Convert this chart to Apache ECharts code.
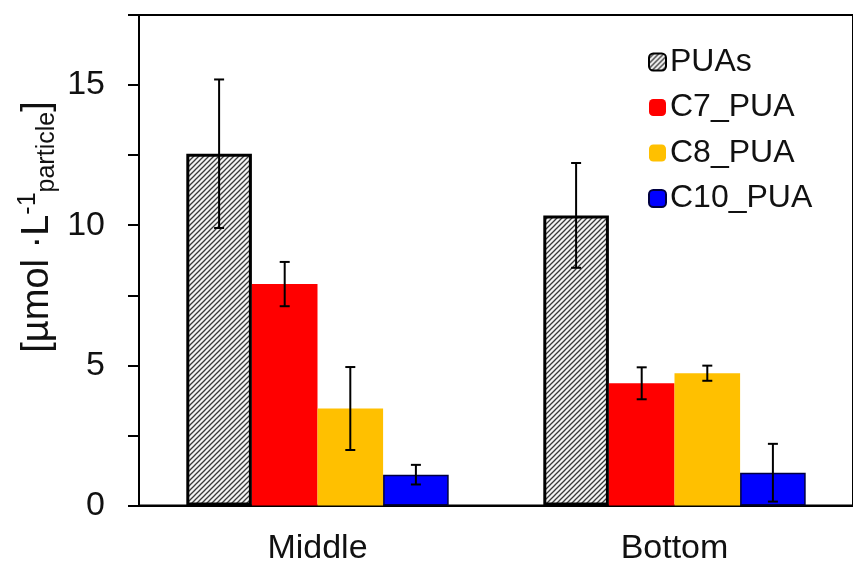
<!DOCTYPE html>
<html>
<head>
<meta charset="utf-8">
<script src="https://cdn.jsdelivr.net/npm/echarts@6/dist/echarts.min.js"></script>
<style>
html,body{margin:0;padding:0;background:#fff;}
#chart{width:853px;height:568px;}
</style>
</head>
<body>
<div id="chart"></div>
<script>
const categories = ['Middle', 'Bottom'];
const seriesNames = ['PUAs', 'C7_PUA', 'C8_PUA', 'C10_PUA'];
const puas = [12.55, 10.35];
const puasErr = [2.65, 1.87];
const c7 = [7.9, 4.36];
const c7Err = [0.79, 0.57];
const c8 = [3.46, 4.72];
const c8Err = [1.48, 0.27];
const c10 = [1.1, 1.17];
const c10Err = [0.35, 1.03];
const yTicks = [0, 5, 10, 15];

const FONT = 'Liberation Sans, Arial, sans-serif';
const GAP = 0.265;

const pc = document.createElement('canvas');
pc.width = 5; pc.height = 5;
const ctx = pc.getContext('2d');
ctx.fillStyle = '#f4f4f4';
ctx.fillRect(0, 0, 5, 5);
ctx.strokeStyle = '#3a3a3a';
ctx.lineWidth = 1.3;
ctx.beginPath();
ctx.moveTo(-1, 6); ctx.lineTo(6, -1);
ctx.moveTo(-1, 1); ctx.lineTo(1, -1);
ctx.moveTo(4, 6); ctx.lineTo(6, 4);
ctx.stroke();
const hatch = { image: pc, repeat: 'repeat' };

const values = [puas, c7, c8, c10];
const errs = [puasErr, c7Err, c8Err, c10Err];
const errData = [];
values.forEach((arr, k) => arr.forEach((v, i) => errData.push([i, k, v, errs[k][i]])));

const styles = [
  { color: hatch, borderColor: '#000', borderWidth: 3 },
  { color: '#ff0000' },
  { color: '#ffc000' },
  { color: '#0000ff', borderColor: '#000040', borderWidth: 1.5 }
];

const chart = echarts.init(document.getElementById('chart'));
chart.setOption({
  animation: false,
  backgroundColor: '#fff',
  grid: { left: 139, top: 15, width: 724, bottom: 62.5, show: true, borderColor: '#000', borderWidth: 2 },
  legend: {
    data: seriesNames,
    orient: 'vertical',
    left: 643, top: 39,
    itemWidth: 17, itemHeight: 17, itemGap: 9.5,
    textStyle: { fontSize: 32, fontFamily: FONT, color: '#111', lineHeight: 36, padding: [0, 0, 0, -1] }
  },
  xAxis: {
    type: 'category',
    data: categories,
    axisLine: { lineStyle: { color: '#000', width: 2 } },
    axisTick: { alignWithLabel: true, length: 9, lineStyle: { color: '#000', width: 2 } },
    axisLabel: { fontSize: 34, fontFamily: FONT, color: '#111', margin: 26 }
  },
  yAxis: {
    type: 'value',
    min: 0, max: 17.5, interval: 2.5,
    splitLine: { show: false },
    axisLine: { show: true, lineStyle: { color: '#000', width: 2 } },
    axisTick: { show: true, length: 11, lineStyle: { color: '#000', width: 2 } },
    axisLabel: {
      fontSize: 34, fontFamily: FONT, color: '#111', margin: 34,
      formatter: v => yTicks.indexOf(v) >= 0 ? String(v) : ''
    }
  },
  graphic: [{
    type: 'text',
    x: 38, y: 227,
    rotation: Math.PI / 2,
    style: {
      text: '{m|[µmol ·L}{sup|-1}{sub|particle}{m|]}',
      align: 'center',
      verticalAlign: 'middle',
      rich: {
        m: { fontSize: 38, fontFamily: FONT, fill: '#111', lineHeight: 44 },
        sup: { fontSize: 25, fontFamily: FONT, fill: '#111', lineHeight: 24, verticalAlign: 'top' },
        sub: { fontSize: 25, fontFamily: FONT, fill: '#111', lineHeight: 26, verticalAlign: 'bottom' }
      }
    }
  }],
  series: seriesNames.map((name, k) => ({
    name,
    type: 'bar',
    data: values[k],
    barGap: '0%',
    barCategoryGap: (GAP * 100) + '%',
    itemStyle: styles[k]
  })).concat([{
    type: 'custom',
    name: 'err',
    data: errData,
    z: 10,
    encode: { x: 0, y: 2 },
    renderItem: function (params, api) {
      const cat = api.value(0), k = api.value(1), v = api.value(2), e = api.value(3);
      const c = api.coord([cat, v]);
      const catW = api.size([1, 0])[0];
      const bw = catW * (1 - GAP) / 4;
      const x = c[0] + (k - 1.5) * bw;
      const yt = api.coord([cat, v + e])[1];
      const yb = api.coord([cat, v - e])[1];
      const hw = 5;
      const st = { stroke: '#000', lineWidth: 2 };
      return {
        type: 'group',
        children: [
          { type: 'line', shape: { x1: x, y1: yt, x2: x, y2: yb }, style: st },
          { type: 'line', shape: { x1: x - hw, y1: yt, x2: x + hw, y2: yt }, style: st },
          { type: 'line', shape: { x1: x - hw, y1: yb, x2: x + hw, y2: yb }, style: st }
        ]
      };
    }
  }])
});
</script>
</body>
</html>
